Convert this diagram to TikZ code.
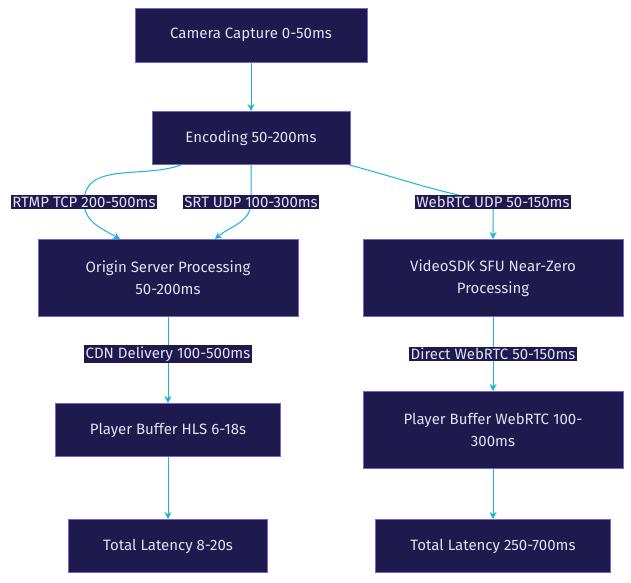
\documentclass[tikz,border=0pt]{standalone}
\usepackage{fontspec}
\setmainfont{Fira Sans}
\usetikzlibrary{arrows.meta}
\definecolor{boxfill}{HTML}{1F1A4D}
\definecolor{boxline}{HTML}{7465D0}
\definecolor{boxtext}{HTML}{E2E0F2}
\definecolor{linkcol}{HTML}{1DB3D3}
\tikzset{
  stagebox/.style={rectangle,draw=boxline,fill=boxfill,text=boxtext,line width=1pt,align=center,font=\fontsize{15}{22}\selectfont},
  tag/.style={rectangle,fill=boxfill,text=boxtext,inner sep=1.5pt,font=\fontsize{15}{18}\selectfont},
  link/.style={draw=linkcol,line width=1pt,-{Stealth[length=7pt,width=7pt]}}
}
\begin{document}
\begin{tikzpicture}[x=1pt,y=-1pt]
  \useasboundingbox[fill=white] (0,0) rectangle (631,582);
  % stages
  \node[stagebox,minimum width=232pt,minimum height=54pt] (cam) at (251,35) {Camera Capture 0-50ms};
  \node[stagebox,minimum width=198pt,minimum height=53pt] (enc) at (251,138) {Encoding 50-200ms};
  \node[stagebox,minimum width=260pt,minimum height=77pt] (origin) at (168,278) {Origin Server Processing\\50-200ms};
  \node[stagebox,minimum width=260pt,minimum height=77pt] (sfu) at (493,278) {VideoSDK SFU Near-Zero\\Processing};
  \node[stagebox,minimum width=225pt,minimum height=53pt] (hls) at (168,430) {Player Buffer HLS 6-18s};
  \node[stagebox,minimum width=260pt,minimum height=77pt] (wrtc) at (493,430) {Player Buffer WebRTC 100-\\300ms};
  \node[stagebox,minimum width=199pt,minimum height=53pt] (tothls) at (168,546) {Total Latency 8-20s};
  \node[stagebox,minimum width=235pt,minimum height=53pt] (totwrtc) at (493,546) {Total Latency 250-700ms};
  % label spots
  \coordinate (rtmpat) at (84,202);
  \coordinate (srtat) at (251,202);
  \coordinate (webat) at (493,202);
  \coordinate (cdnat) at (168,354);
  \coordinate (directat) at (493,354);
  % links
  \draw[link] (cam) -- (enc);
  \draw[link] ([xshift=-70pt]enc.south) to[out=-160,in=90] (rtmpat) to[out=-90,in=150] ([xshift=-48pt]origin.north);
  \draw[link] (enc.south) to[out=-90,in=90] (srtat) to[out=-90,in=40] ([xshift=47pt]origin.north);
  \draw[link] ([xshift=-1pt]enc.south east) to[out=-15,in=170] (webat) -- (sfu.north);
  \draw[link] (origin) -- (hls);
  \draw[link] (sfu) -- (wrtc);
  \draw[link] (hls) -- (tothls);
  \draw[link] (wrtc) -- (totwrtc);
  % labels
  \node[tag] (rtmp) at (rtmpat) {RTMP TCP 200-500ms};
  \node[tag] (srt) at (srtat) {SRT UDP 100-300ms};
  \node[tag] (web) at (webat) {WebRTC UDP 50-150ms};
  \node[tag] (cdn) at (cdnat) {CDN Delivery 100-500ms};
  \node[tag] (direct) at (directat) {Direct WebRTC 50-150ms};
\end{tikzpicture}
\end{document}
